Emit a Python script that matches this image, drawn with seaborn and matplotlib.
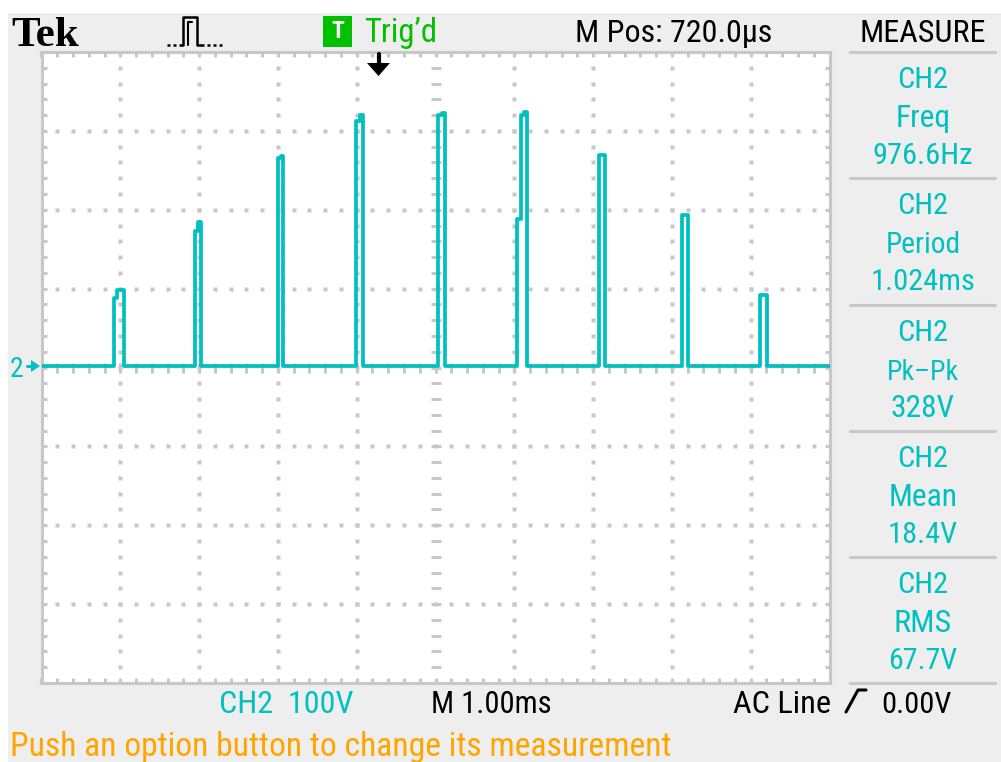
import matplotlib
matplotlib.use("Agg")
import matplotlib.pyplot as plt
from matplotlib import font_manager as fm
from matplotlib.patches import Rectangle, Polygon
from matplotlib.lines import Line2D
import numpy as np
import pandas as pd
import seaborn as sns

# ---- scope settings ----
volts_per_div = 100
ms_per_div = 1.0
m_pos_ms = 0.72
baseline_v = 2

# ---- CH2 trace: each pulse = edge times (ms, trigger at 0) and the levels between them (V) ----
pulse_edges_ms = [
    [-3.366, -3.328, -3.239],
    [-2.326, -2.288, -2.250],
    [-1.285, -1.247, -1.209],
    [-0.285, -0.242, -0.204],
    [0.756, 0.799, 0.837],
    [1.758, 1.799, 1.837, 1.875],
    [2.801, 2.877],
    [3.842, 3.918],
    [4.835, 4.921],
]
pulse_levels_v = [
    [88, 98],
    [173, 184],
    [265, 268],
    [313, 320],
    [320, 323],
    [188, 320, 324],
    [269],
    [193],
    [92],
]

# ---- readouts ----
meas_names = ["Freq", "Period", "Pk\u2013Pk", "Mean", "RMS"]
meas_values = ["976.6Hz", "1.024ms", "328V", "18.4V", "67.7V"]
top_labels = ["Trig\u2019d", "M Pos: 720.0\u03bcs", "MEASURE"]
bottom_labels = ["CH2  100V", "M 1.00ms", "AC Line", "0.00V"]
status_msg = "Push an option button to change its measurement"

CYAN = "#00C0C0"
GREEN = "#00C000"
GRID = "#C8C8C8"
PANEL = "#EEEEEE"
ORANGE = "#FFA500"

W, H = 1001, 762


def fx(x):
    return x / W


def fy(y):
    return 1 - y / H


# pick a narrow sans if one is installed (scope font is condensed)
names = {f.name for f in fm.fontManager.ttflist}
font_kw = {}
for cand in ["Liberation Sans Narrow", "Roboto Condensed", "Open Sans Condensed", "DejaVu Sans Condensed"]:
    if cand in names:
        font_kw = {"family": [cand, "DejaVu Sans"]}
        break
else:
    cond = [f for f in fm.fontManager.ttflist
            if f.name == "DejaVu Sans" and str(f.stretch) in ("condensed", "semi-condensed", "75", "87")]
    if cond:
        font_kw = {"family": ["DejaVu Sans"], "stretch": "condensed"}
    else:
        font_kw = {"family": ["DejaVu Sans"]}

sns.set_style("white")
plt.rcParams["font.family"] = font_kw["family"]

fig = plt.figure(figsize=(W / 100, H / 100), dpi=100)
fig.patch.set_facecolor("white")
fig.patches.append(Rectangle((fx(8), 0), 1, fy(13), transform=fig.transFigure,
                             facecolor=PANEL, edgecolor="none", zorder=-10))
renderer = fig.canvas.get_renderer()


def put(x, y, s, width, color, ha="left"):
    # place text at baseline (x, y) px and size it to the width it has on the scope
    kw = {"fontstretch": font_kw["stretch"]} if "stretch" in font_kw else {}
    txt = fig.text(fx(x), fy(y), s, color=color, ha=ha, va="baseline",
                   fontsize=20, **kw)
    w = txt.get_window_extent(renderer).width
    txt.set_fontsize(20 * width / w)
    return txt


x0 = m_pos_ms - 5 * ms_per_div
x1 = m_pos_ms + 5 * ms_per_div
ax = fig.add_axes([fx(41.5), fy(683), (829.5 - 41.5) / W, (683 - 52) / H])
ax.set_facecolor("white")

# build step trace from pulses
t = [x0]
v = [baseline_v]
for edges, levels in zip(pulse_edges_ms, pulse_levels_v):
    for e, lv in zip(edges[:-1], levels):
        t.append(e)
        v.append(lv)
    t.append(edges[-1])
    v.append(baseline_v)
t.append(x1)
v.append(baseline_v)
df = pd.DataFrame({"t": t, "v": v})

# graticule
minor_x = np.arange(0, 51) * ms_per_div / 5 + x0
minor_y = np.arange(-20, 21) * volts_per_div / 5
major_x = np.arange(1, 10) * ms_per_div + x0
major_y = np.arange(-3, 4) * volts_per_div
for gx in major_x:
    if abs(gx - m_pos_ms) < 1e-6:
        continue
    ax.plot(np.full_like(minor_y, gx), minor_y, ls="none", marker="s", ms=2.2,
            mec="none", mfc=GRID, zorder=1)
for gy in major_y:
    if gy == 0:
        continue
    ax.plot(minor_x, np.full_like(minor_x, gy), ls="none", marker="s", ms=2.2,
            mec="none", mfc=GRID, zorder=1)
# center cross
ax.plot(np.full_like(minor_y, m_pos_ms), minor_y, ls="none", marker="_", ms=6.5,
        mew=2.2, mec=GRID, zorder=1)
ax.plot(minor_x, np.zeros_like(minor_x), ls="none", marker="|", ms=6.5,
        mew=2.2, mec=GRID, zorder=1)

sns.lineplot(data=df, x="t", y="v", ax=ax, estimator=None, sort=False,
             drawstyle="steps-post", color=CYAN, linewidth=2.7, zorder=3)

ax.set_xlim(x0, x1)
ax.set_ylim(-4 * volts_per_div, 4 * volts_per_div)
ax.set_xticks(minor_x)
ax.set_yticks(minor_y)
ax.set_xticklabels([])
ax.set_yticklabels([])
ax.set_xlabel("")
ax.set_ylabel("")
ax.tick_params(direction="in", length=3.6, width=2.2, color=GRID,
               top=True, right=True, bottom=True, left=True)
for s in ax.spines.values():
    s.set_color(GRID)
    s.set_linewidth(2.2)
    s.set_visible(True)

# ---- top bar ----
fig.text(fx(11), fy(46.5), "Tek", family=["Liberation Serif", "DejaVu Serif"],
         weight="bold", fontsize=31, color="black", va="baseline")
# acquisition icon: dotted low level, pulse, dotted low level
fig.lines.append(Line2D([fx(167), fx(181)], [fy(45), fy(45)], transform=fig.transFigure,
                        color="black", lw=1.8, ls=(0, (1.2, 1.2))))
fig.lines.append(Line2D([fx(181), fx(183), fx(183), fx(197), fx(197), fx(201)],
                        [fy(45), fy(45), fy(17), fy(17), fy(45), fy(45)],
                        transform=fig.transFigure, color="black", lw=1.8))
fig.lines.append(Line2D([fx(188), fx(188), fx(192)], [fy(45), fy(22), fy(22)],
                        transform=fig.transFigure, color="black", lw=1.5))
fig.lines.append(Line2D([fx(201), fx(222)], [fy(45), fy(45)], transform=fig.transFigure,
                        color="black", lw=1.8, ls=(0, (1.2, 1.2))))
fig.patches.append(Rectangle((fx(323), fy(47)), fx(352) - fx(323), fy(16) - fy(47),
                             transform=fig.transFigure, facecolor=GREEN, edgecolor="none"))
fig.text(fx(337.5), fy(31.5), "T", color="white", fontsize=17, weight="bold",
         ha="center", va="center")
put(364, 42, top_labels[0], 73, GREEN)
put(575, 42, top_labels[1], 197, "black")
put(859, 42, top_labels[2], 126, "black")

# trigger arrow
fig.lines.append(Line2D([fx(378.5), fx(378.5)], [fy(54), fy(64)],
                        transform=fig.transFigure, color="black", lw=3))
fig.patches.append(Polygon([(fx(367), fy(63)), (fx(390), fy(63)), (fx(378.5), fy(76))],
                           closed=True, transform=fig.transFigure,
                           facecolor="black", edgecolor="none"))

# ---- channel marker ----
fig.text(fx(10), fy(377), "2", color=CYAN, fontsize=20, va="baseline")
fig.lines.append(Line2D([fx(27), fx(36)], [fy(366), fy(366)],
                        transform=fig.transFigure, color=CYAN, lw=2.2))
fig.patches.append(Polygon([(fx(31), fy(360)), (fx(40), fy(366)), (fx(31), fy(372))],
                           closed=True, transform=fig.transFigure,
                           facecolor=CYAN, edgecolor="none"))

# ---- measurement panel ----
step = 126.3
name_w = [55, 75, 72, 69, 58]
val_w = [100, 105, 64, 70, 69]
for k in range(6):
    yl = 52 + step * k if k < 5 else 683
    fig.lines.append(Line2D([fx(850), fx(995)], [fy(yl), fy(yl)],
                            transform=fig.transFigure, color=GRID, lw=2.2))
for k, (name, val) in enumerate(zip(meas_names, meas_values)):
    put(923, 88 + step * k, "CH2", 51, CYAN, ha="center")
    put(923, 127 + step * k, name, name_w[k], CYAN, ha="center")
    put(923, 164 + step * k, val, val_w[k], CYAN, ha="center")

# ---- bottom bar ----
put(219, 713, bottom_labels[0], 134, CYAN)
put(431, 713, bottom_labels[1], 121, "black")
put(733, 713, bottom_labels[2], 98, "black")
fig.lines.append(Line2D([fx(846), fx(858), fx(866)], [fy(712), fy(690), fy(690)],
                        transform=fig.transFigure, color="black", lw=2.2))
put(881, 713, bottom_labels[3], 70, "black")
put(10, 756, status_msg, 660, ORANGE)

fig.savefig("out.png", dpi=100)
